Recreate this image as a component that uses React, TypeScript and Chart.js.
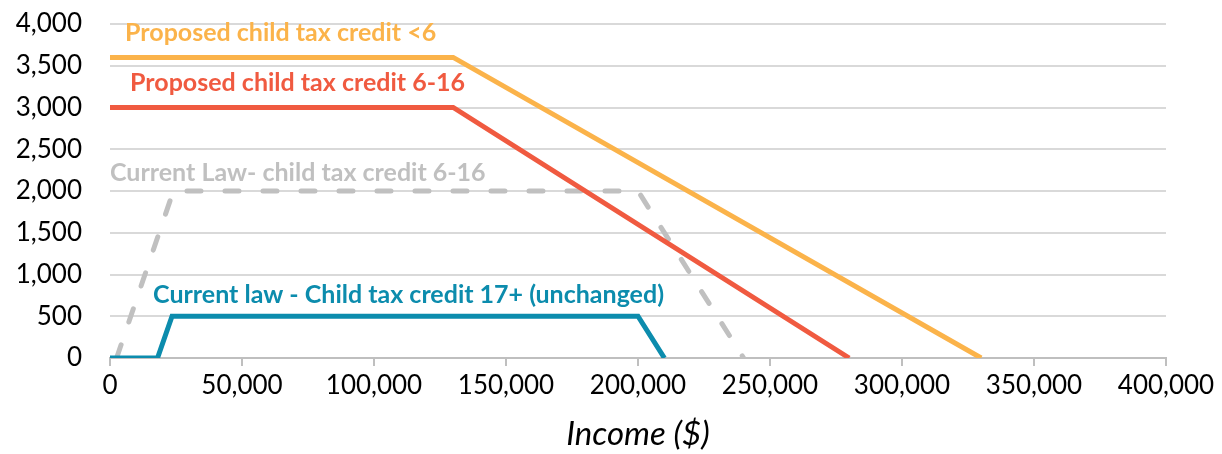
import React, { useEffect, useRef } from "react";
import { Chart, registerables } from "chart.js";

Chart.register(...registerables);

// Income breakpoints ($) and credit values ($) for each series
const incomeProposedUnder6 = [0, 130000, 330000];
const creditProposedUnder6 = [3600, 3600, 0];

const incomeProposed6to16 = [0, 130000, 280000];
const creditProposed6to16 = [3000, 3000, 0];

const incomeCurrent6to16 = [2500, 24000, 200000, 240000];
const creditCurrent6to16 = [0, 2000, 2000, 0];

const incomeCurrent17 = [0, 18000, 23500, 200000, 210000];
const creditCurrent17 = [0, 0, 500, 500, 0];

const seriesNames = [
  "Proposed child tax credit <6",
  "Proposed child tax credit 6-16",
  "Current Law- child tax credit 6-16",
  "Current law - Child tax credit 17+ (unchanged)",
];
const seriesColors = ["#FBB34A", "#F05A40", "#C0C0C0", "#0C8CAD"];

// Label anchor (data coords: income, credit) for the in-chart labels
const labelIncome = [5700, 7600, 0, 16300];
const labelCredit = [3890, 3290, 2216, 754];

const xTicks = [0, 50000, 100000, 150000, 200000, 250000, 300000, 350000, 400000];
const yTicks = [0, 500, 1000, 1500, 2000, 2500, 3000, 3500, 4000];

const FONT = "Lato, 'Noto Sans', sans-serif";

function pts(xs: number[], ys: number[]) {
  return xs.map((x, i) => ({ x, y: ys[i] }));
}

export default function App() {
  const ref = useRef<HTMLCanvasElement | null>(null);
  useEffect(() => {
    if (!ref.current) return;
    const labelPlugin = {
      id: "seriesLabels",
      afterDatasetsDraw(chart: any) {
        const { ctx, scales } = chart;
        ctx.save();
        ctx.font = `bold 25px ${FONT}`;
        ctx.textBaseline = "middle";
        ctx.textAlign = "left";
        seriesNames.forEach((name, i) => {
          ctx.fillStyle = seriesColors[i];
          ctx.fillText(
            name,
            scales.x.getPixelForValue(labelIncome[i]),
            scales.y.getPixelForValue(labelCredit[i])
          );
        });
        ctx.restore();
      },
    };
    const chart = new Chart(ref.current, {
      type: "line",
      data: {
        datasets: [
          {
            label: seriesNames[0],
            data: pts(incomeProposedUnder6, creditProposedUnder6),
            borderColor: seriesColors[0],
            borderWidth: 5,
            pointRadius: 0,
            order: 2,
          },
          {
            label: seriesNames[1],
            data: pts(incomeProposed6to16, creditProposed6to16),
            borderColor: seriesColors[1],
            borderWidth: 5,
            pointRadius: 0,
            order: 1,
          },
          {
            label: seriesNames[2],
            data: pts(incomeCurrent6to16, creditCurrent6to16),
            borderColor: seriesColors[2],
            borderWidth: 5,
            borderDash: [14, 24],
            borderCapStyle: "round",
            pointRadius: 0,
            order: 4,
          },
          {
            label: seriesNames[3],
            data: pts(incomeCurrent17, creditCurrent17),
            borderColor: seriesColors[3],
            borderWidth: 5,
            pointRadius: 0,
            order: 3,
          },
        ],
      },
      options: {
        responsive: false,
        animation: false,
        layout: { padding: { top: 24, right: 56, left: 0, bottom: 0 } },
        plugins: {
          legend: { display: false },
          tooltip: { enabled: false },
        },
        scales: {
          x: {
            type: "linear",
            min: 0,
            max: 400000,
            afterBuildTicks: (s: any) => {
              s.ticks = xTicks.map((v) => ({ value: v }));
            },
            ticks: {
              color: "#000",
              font: { family: FONT, size: 26 },
              padding: 4,
              maxRotation: 0,
              autoSkip: false,
              callback: (v: any) => Number(v).toLocaleString("en-US"),
            },
            grid: {
              drawOnChartArea: false,
              drawTicks: true,
              tickLength: 8,
              color: "#BFBFBF",
              lineWidth: 2,
            },
            border: { display: true, color: "#BFBFBF", width: 2 },
            title: {
              display: true,
              text: "Income ($)",
              color: "#000",
              font: { family: FONT, size: 33, style: "italic" },
              padding: { top: 6, bottom: 0 },
            },
            afterFit: (s: any) => {
              s.height = 96;
              s.paddingLeft = 0;
              s.paddingRight = 0;
            },
          },
          y: {
            min: 0,
            max: 4000,
            afterBuildTicks: (s: any) => {
              s.ticks = yTicks.map((v) => ({ value: v }));
            },
            ticks: {
              color: "#000",
              font: { family: FONT, size: 26 },
              padding: 28,
              autoSkip: false,
              callback: (v: any) => Number(v).toLocaleString("en-US"),
            },
            grid: {
              color: "#D9D9D9",
              lineWidth: 2,
              drawTicks: false,
            },
            border: { display: false },
            afterFit: (s: any) => {
              s.width = 110;
              s.paddingTop = 0;
              s.paddingBottom = 0;
            },
          },
        },
      },
      plugins: [labelPlugin],
    } as any);
    return () => chart.destroy();
  }, []);
  return (
    <div style={{ position: "fixed", left: 0, top: 0, width: 1222, height: 454, background: "#fff" }}>
      <canvas ref={ref} width={1222} height={454} style={{ display: "block" }} />
    </div>
  );
}
